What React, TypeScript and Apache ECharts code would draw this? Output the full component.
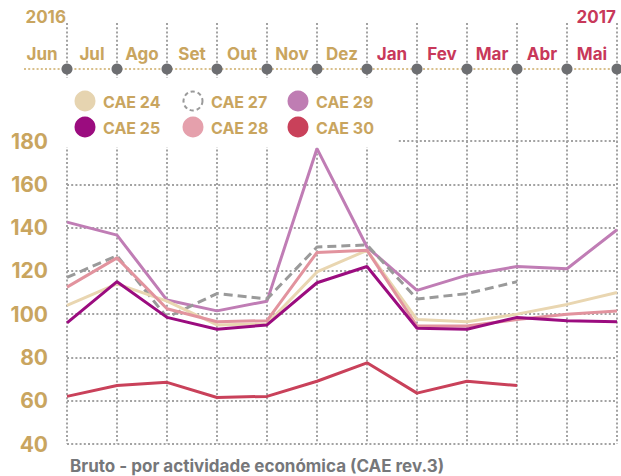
import React, { useEffect, useRef } from "react";
import * as echarts from "echarts";

const months = ["Jun", "Jul", "Ago", "Set", "Out", "Nov", "Dez", "Jan", "Fev", "Mar", "Abr", "Mai"];
const yearLabels = ["2016", "2017"];
const cae24 = [104, 114, 106, 95, 95.5, 119.5, 129.5, 97.5, 96.5, 100, 104.5, 110];
const cae25 = [96, 115, 98.5, 93, 95, 114.5, 122, 93.5, 93, 98.5, 97, 96.5];
const cae27 = [117, 127, 98.5, 109.5, 107, 131, 132, 107, 109.5, 115, null, null];
const cae28 = [112.5, 126, 102.5, 96.5, 97, 128.5, 129.5, 94.5, 94.5, 97.5, 100, 101.5];
const cae29 = [142.5, 136.5, 106.5, 101.5, 106, 176.5, 131, 111, 118, 122, 121, 139];
const cae30 = [62, 67, 68.5, 61.5, 62, 69, 77.5, 63.5, 69, 67, null, null];
const seriesNames = ["CAE 24", "CAE 25", "CAE 27", "CAE 28", "CAE 29", "CAE 30"];
const seriesData = [cae24, cae25, cae27, cae28, cae29, cae30];
const colors = ["#e9d6b1", "#9b0c7f", "#9a9a9a", "#e2939e", "#c07db5", "#c9415a"];
const legendColors = ["#e6d4b0", "#9b0c7f", "#9a9a9a", "#e5a0ac", "#bf7db3", "#c9415a"];
const bottomTitle = "Bruto - por actividade económica (CAE rev.3)";

const TAN = "#c9a55f";
const CRIMSON = "#c8385a";
const FONT = "Inter";
const DOTS = [2, 2.2];
const GRID_C = "#a3a3a3";

export default function App() {
  const ref = useRef<HTMLDivElement>(null);
  useEffect(() => {
    document.body.style.margin = "0";
    const chart = echarts.init(ref.current!, null, { renderer: "svg" });
    const zOrder = [3, 6, 2, 4, 1, 5];
    chart.setOption({
      animation: false,
      grid: { left: 67, right: 4, top: 141, bottom: 32 },
      xAxis: {
        type: "category",
        data: months,
        boundaryGap: false,
        axisLine: { show: false },
        axisTick: { show: false },
        axisLabel: { show: false },
        splitLine: { show: true, lineStyle: { color: GRID_C, width: 2, type: DOTS } },
      },
      yAxis: {
        type: "value",
        min: 40,
        max: 180,
        interval: 20,
        axisLine: { show: false },
        axisTick: { show: false },
        axisLabel: { color: TAN, fontSize: 21, fontWeight: "bold", fontFamily: FONT, margin: 19 },
        splitLine: { show: true, lineStyle: { color: GRID_C, width: 2, type: DOTS } },
      },
      series: seriesData.map((d, i) => ({
        name: seriesNames[i],
        type: "line",
        data: d,
        symbol: "none",
        z: zOrder[i],
        lineStyle: { color: colors[i], width: 3, type: i === 2 ? [9, 5] : "solid" },
        itemStyle: { color: colors[i] },
      })),
    });

    const xs = months.map((_, i) => chart.convertToPixel({ xAxisIndex: 0 }, i) as number);
    const gridTop = chart.convertToPixel({ yAxisIndex: 0 }, 180) as number;
    const TL_Y = 69;
    const g: any[] = [];
    g.push({ type: "rect", z: 50, shape: { x: 58, y: 137, width: 340, height: 10 }, style: { fill: "#fff" } });
    g.push({ type: "line", z: 60, shape: { x1: 24, y1: TL_Y, x2: 621, y2: TL_Y }, style: { stroke: "#d9c08c", lineWidth: 2, lineDash: DOTS } });
    xs.forEach((x, i) => {
      const y2 = i >= 7 ? gridTop : 78;
      g.push({ type: "line", z: 60, shape: { x1: x, y1: 23, x2: x, y2 }, style: { stroke: GRID_C, lineWidth: 2, lineDash: DOTS } });
      g.push({ type: "circle", z: 61, shape: { cx: x, cy: TL_Y, r: 5.5 }, style: { fill: "#6d6e71" } });
      g.push({
        type: "text", z: 62, x: x - 25, y: 54,
        style: { text: months[i], fill: i >= 7 ? CRIMSON : TAN, font: `bold 17px ${FONT}`, textAlign: "center", textVerticalAlign: "middle" },
      });
    });
    g.push({ type: "text", z: 62, x: xs[0] - 1, y: 17, style: { text: yearLabels[0], fill: TAN, font: `bold 17px ${FONT}`, textAlign: "right", textVerticalAlign: "middle" } });
    g.push({ type: "text", z: 62, x: xs[11] - 1, y: 17, style: { text: yearLabels[1], fill: CRIMSON, font: `bold 17px ${FONT}`, textAlign: "right", textVerticalAlign: "middle" } });
    const legendOrder = [0, 2, 4, 1, 3, 5];
    const colX = [85, 193, 298];
    const rowY = [101, 127];
    legendOrder.forEach((si, k) => {
      const cx = colX[k % 3];
      const cy = rowY[Math.floor(k / 3)];
      if (si === 2) {
        g.push({ type: "circle", z: 70, shape: { cx, cy, r: 9.5 }, style: { fill: "none", stroke: legendColors[si], lineWidth: 2, lineDash: [4, 3] } });
      } else {
        g.push({ type: "circle", z: 70, shape: { cx, cy, r: 10.5 }, style: { fill: legendColors[si] } });
      }
      g.push({ type: "text", z: 70, x: cx + 18, y: cy + 1, style: { text: seriesNames[si], fill: TAN, font: `bold 16px ${FONT}`, textVerticalAlign: "middle" } });
    });
    g.push({ type: "text", z: 70, x: 70, y: 466, style: { text: bottomTitle, fill: "#76777a", font: `bold 17px ${FONT}`, textVerticalAlign: "middle" } });
    chart.setOption({ graphic: g });
    return () => chart.dispose();
  }, []);
  return <div ref={ref} style={{ width: 621, height: 476 }} />;
}
